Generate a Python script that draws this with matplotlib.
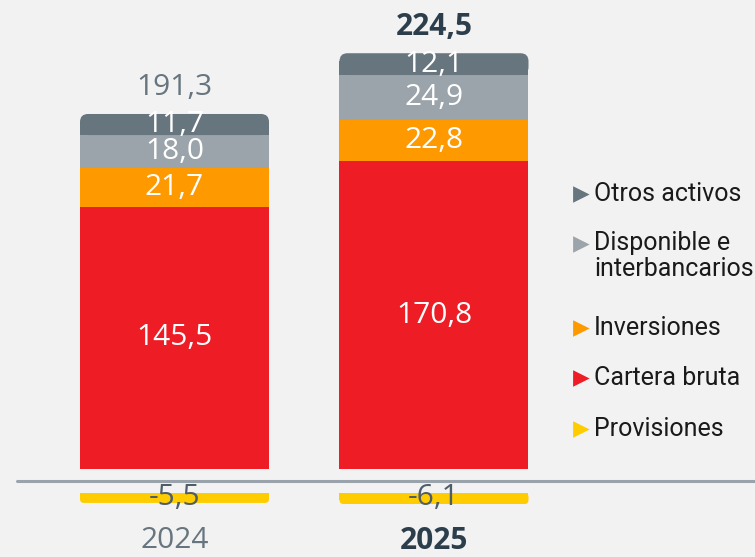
import matplotlib
matplotlib.use("Agg")
import matplotlib.pyplot as plt
from matplotlib.patches import FancyBboxPatch, Rectangle
from matplotlib.lines import Line2D
from matplotlib import font_manager as fm

# ---------------- data ----------------
years = ["2024", "2025"]
cartera = [145.5, 170.8]
inversiones = [21.7, 22.8]
disponible = [18.0, 24.9]
otros = [11.7, 12.1]
provisiones = [-5.5, -6.1]
totals = [191.3, 224.5]
legend_names = ["Otros activos", "Disponible e\ninterbancarios", "Inversiones", "Cartera bruta", "Provisiones"]

# ---------------- style ----------------
C_RED = "#ee1c25"
C_ORANGE = "#ff9900"
C_LGRAY = "#9ca4ab"
C_DGRAY = "#67757e"
C_YELLOW = "#ffcc00"
BG = "#f2f2f2"
series_colors = [C_RED, C_ORANGE, C_LGRAY, C_DGRAY]
legend_colors = [C_DGRAY, C_LGRAY, C_ORANGE, C_RED, C_YELLOW]


def pick(fams):
    for f in fams:
        try:
            fm.findfont(fm.FontProperties(family=f), fallback_to_default=False)
            return f
        except Exception:
            pass
    return "DejaVu Sans"

NUM_FONT = pick(["Open Sans", "Roboto", "DejaVu Sans"])
LEG_FONT = pick(["Roboto", "Lato", "DejaVu Sans"])

W, H = 755, 557
fig = plt.figure(figsize=(W / 100, H / 100), dpi=100, facecolor=BG)
ax = fig.add_axes([0, 0, 1, 1], facecolor=BG)

# map pixel layout
px_per_x = 259.5
x0_px = 174.5
px_per_y = 1.803
y0_px = 469  # from top
ax.set_xlim(-x0_px / px_per_x, (W - x0_px) / px_per_x)
ax.set_ylim(-(H - y0_px) / px_per_y, y0_px / px_per_y)
ax.axis("off")

xs = list(range(len(years)))
width = 189 / px_per_x
neg_gap = 24 / px_per_y
axis_y = -12 / px_per_y

bottoms = [0.0] * len(xs)
all_series = [cartera, inversiones, disponible, otros]
containers = []
for vals, col in zip(all_series, series_colors):
    bc = ax.bar(xs, vals, width=width, bottom=bottoms, color=col, linewidth=0)
    containers.append((bc, vals, list(bottoms)))
    bottoms = [b + v for b, v in zip(bottoms, vals)]

neg = ax.bar(xs, provisiones, width=width, bottom=[-neg_gap] * len(xs), color=C_YELLOW, linewidth=0)


def round_rect(rect, r_px, keep_top_round, color):
    x, y = rect.get_x(), rect.get_y()
    w, h = rect.get_width(), rect.get_height()
    if h < 0:
        y, h = y + h, -h
    rect.set_visible(False)
    rx = r_px / px_per_x
    ry = r_px / px_per_y
    aspect = ry / rx
    fb = FancyBboxPatch((x, y), w, h, boxstyle=f"round,pad=0,rounding_size={rx}",
                        mutation_aspect=aspect, facecolor=color, edgecolor="none", linewidth=0)
    ax.add_patch(fb)
    if keep_top_round:
        ax.add_patch(Rectangle((x, y), w, h - ry, facecolor=color, edgecolor="none", linewidth=0))
    else:
        ax.add_patch(Rectangle((x, y + ry), w, h - ry, facecolor=color, edgecolor="none", linewidth=0))

for rect in containers[-1][0].patches:
    round_rect(rect, 8, True, C_DGRAY)
for rect in neg.patches:
    round_rect(rect, 4, False, C_YELLOW)

# axis line
ax.plot([(17 - x0_px) / px_per_x, (W + 5 - x0_px) / px_per_x], [axis_y, axis_y],
        color="#9aa3ab", lw=2.2, solid_capstyle="round", zorder=3)

# segment labels
fs = 21.5
for bc, vals, bts in containers:
    for x, v, b in zip(xs, vals, bts):
        ax.text(x, b + v / 2, f"{v:.1f}".replace(".", ","), ha="center", va="center",
                color="white", fontsize=fs, family=NUM_FONT, fontweight=500, zorder=5)

# negative labels
for x, v in zip(xs, provisiones):
    ax.text(x, -neg_gap + v / 2 + 0.3, f"{v:.1f}".replace(".", ","), ha="center", va="center",
            color="#4f5d68", fontsize=fs, family=NUM_FONT, fontweight=500, zorder=5)

# totals
tot_styles = [dict(color=C_DGRAY, fontweight=500), dict(color="#2c3e4c", fontweight="bold")]
for x, t, top, st in zip(xs, totals, bottoms, tot_styles):
    ax.annotate(f"{t:.1f}".replace(".", ","), (x, top), xytext=(0, 19), textcoords="offset points",
                ha="center", va="center", fontsize=fs, family=NUM_FONT, **st)

# year labels
for x, yl, st in zip(xs, years, tot_styles):
    ax.text(x, -(541 - y0_px) / px_per_y, yl, ha="center", va="center", fontsize=fs,
            family=NUM_FONT, **st)

# legend (manual)
leg_rows_px = [194, 256, 328, 378, 429]
marker_rows_px = [194, 244, 328, 378, 429]
for name, col, ty, my in zip(legend_names, legend_colors, leg_rows_px, marker_rows_px):
    fig.add_artist(Line2D([580 / W], [1 - my / H], marker=">", markersize=9,
                          color=col, markeredgecolor=col, markeredgewidth=2,
                          transform=fig.transFigure, linestyle="none"))
    fig.text(594 / W, 1 - ty / H, name, ha="left", va="center", fontsize=18,
             family=LEG_FONT, color="#1a1a1a", linespacing=1.1)

fig.savefig("out.png", dpi=100, facecolor=BG)
